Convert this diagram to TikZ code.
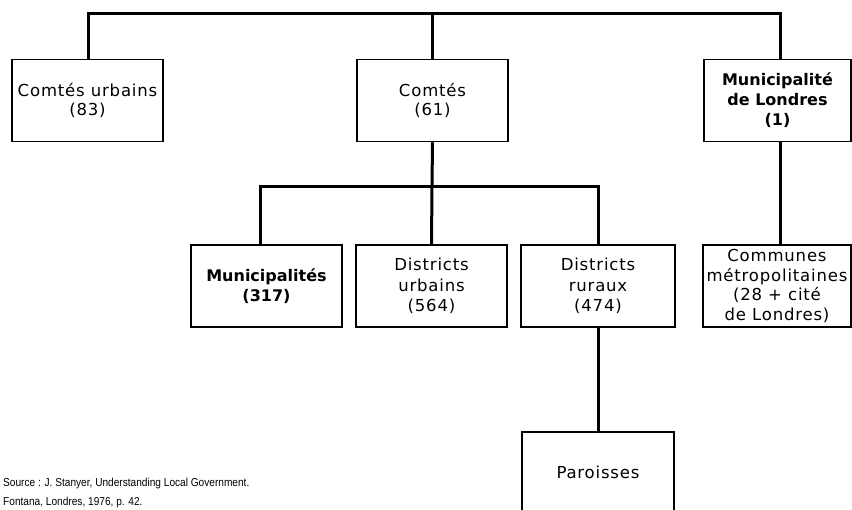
\documentclass[tikz,border=0pt]{standalone}
\usepackage{fontspec}
\setmainfont{DejaVu Sans}[LetterSpace=5]
\newfontfamily\boldfam{DejaVu Sans Bold}
\newfontfamily\srcfont{Liberation Sans}[FakeStretch=0.88]
\usetikzlibrary{calc}
\tikzset{
  boxnode/.style={draw, line width=1.5pt, align=center, inner xsep=0pt, inner ysep=2pt,
    font=\fontsize{16.5}{19}\selectfont, minimum height=82pt},
  threeline/.style={font=\fontsize{16.5}{20.5}\selectfont},
  boldtxt/.style={font=\boldfam\fontsize{16}{20}\selectfont},
  conn/.style={line width=3pt}
}
\begin{document}
\begin{tikzpicture}[x=1pt,y=-1pt]
\useasboundingbox (0,0) rectangle (852,510);
% level 1
\node[boxnode, minimum width=151pt] (cu) at (87.5,100.5) {Comtés urbains\\(83)};
\node[boxnode, minimum width=151pt] (co) at (432.5,100.5) {Comtés\\(61)};
\node[boxnode, boldtxt, minimum width=147pt] (ml) at (777.5,100.5) {Municipalité\\de Londres\\(1)};
% level 2
\node[boxnode, boldtxt, minimum width=151pt] (mu) at (266.5,286) {Municipalités\\(317)};
\node[boxnode, threeline, minimum width=151pt] (du) at (431.5,286) {Districts\\urbains\\(564)};
\node[boxnode, threeline, minimum width=154pt] (dr) at (598,286) {Districts\\ruraux\\(474)};
\node[boxnode, minimum width=148pt, font=\fontsize{16.5}{19.5}\selectfont] (cm) at (777,286) {Communes\\métropolitaines\\(28 + cité\\de Londres)};
% level 3
\node[boxnode, minimum width=152pt, minimum height=80pt] (pa) at (598,472) {Paroisses};
% connectors
\coordinate (t1) at (88,14);
\coordinate (t3) at (780,14);
\draw[conn] (t1 |- cu.north) -- (t1) -- (t3) -- (t3 |- ml.north);
\draw[conn] (co.north) -- (co.north |- t1);
\coordinate (j) at (432,187);
\draw[conn] (co.south) -- (j);
\draw[conn] (260,0 |- mu.north) -- (260,187) -- (dr.north |- j) -- (dr.north);
\draw[conn] (j) -- (du.north);
\draw[conn] (t3 |- ml.south) -- (t3 |- cm.north);
\draw[conn] (dr.south) -- (pa.north);
% source (base anchor = baseline of last line)
\node[anchor=base west, inner sep=0pt, font=\srcfont\fontsize{11.5}{19}\selectfont, align=left] (src) at (3,506)
  {Source : J. Stanyer, Understanding Local Government.\\Fontana, Londres, 1976, p. 42.};
\end{tikzpicture}
\end{document}
